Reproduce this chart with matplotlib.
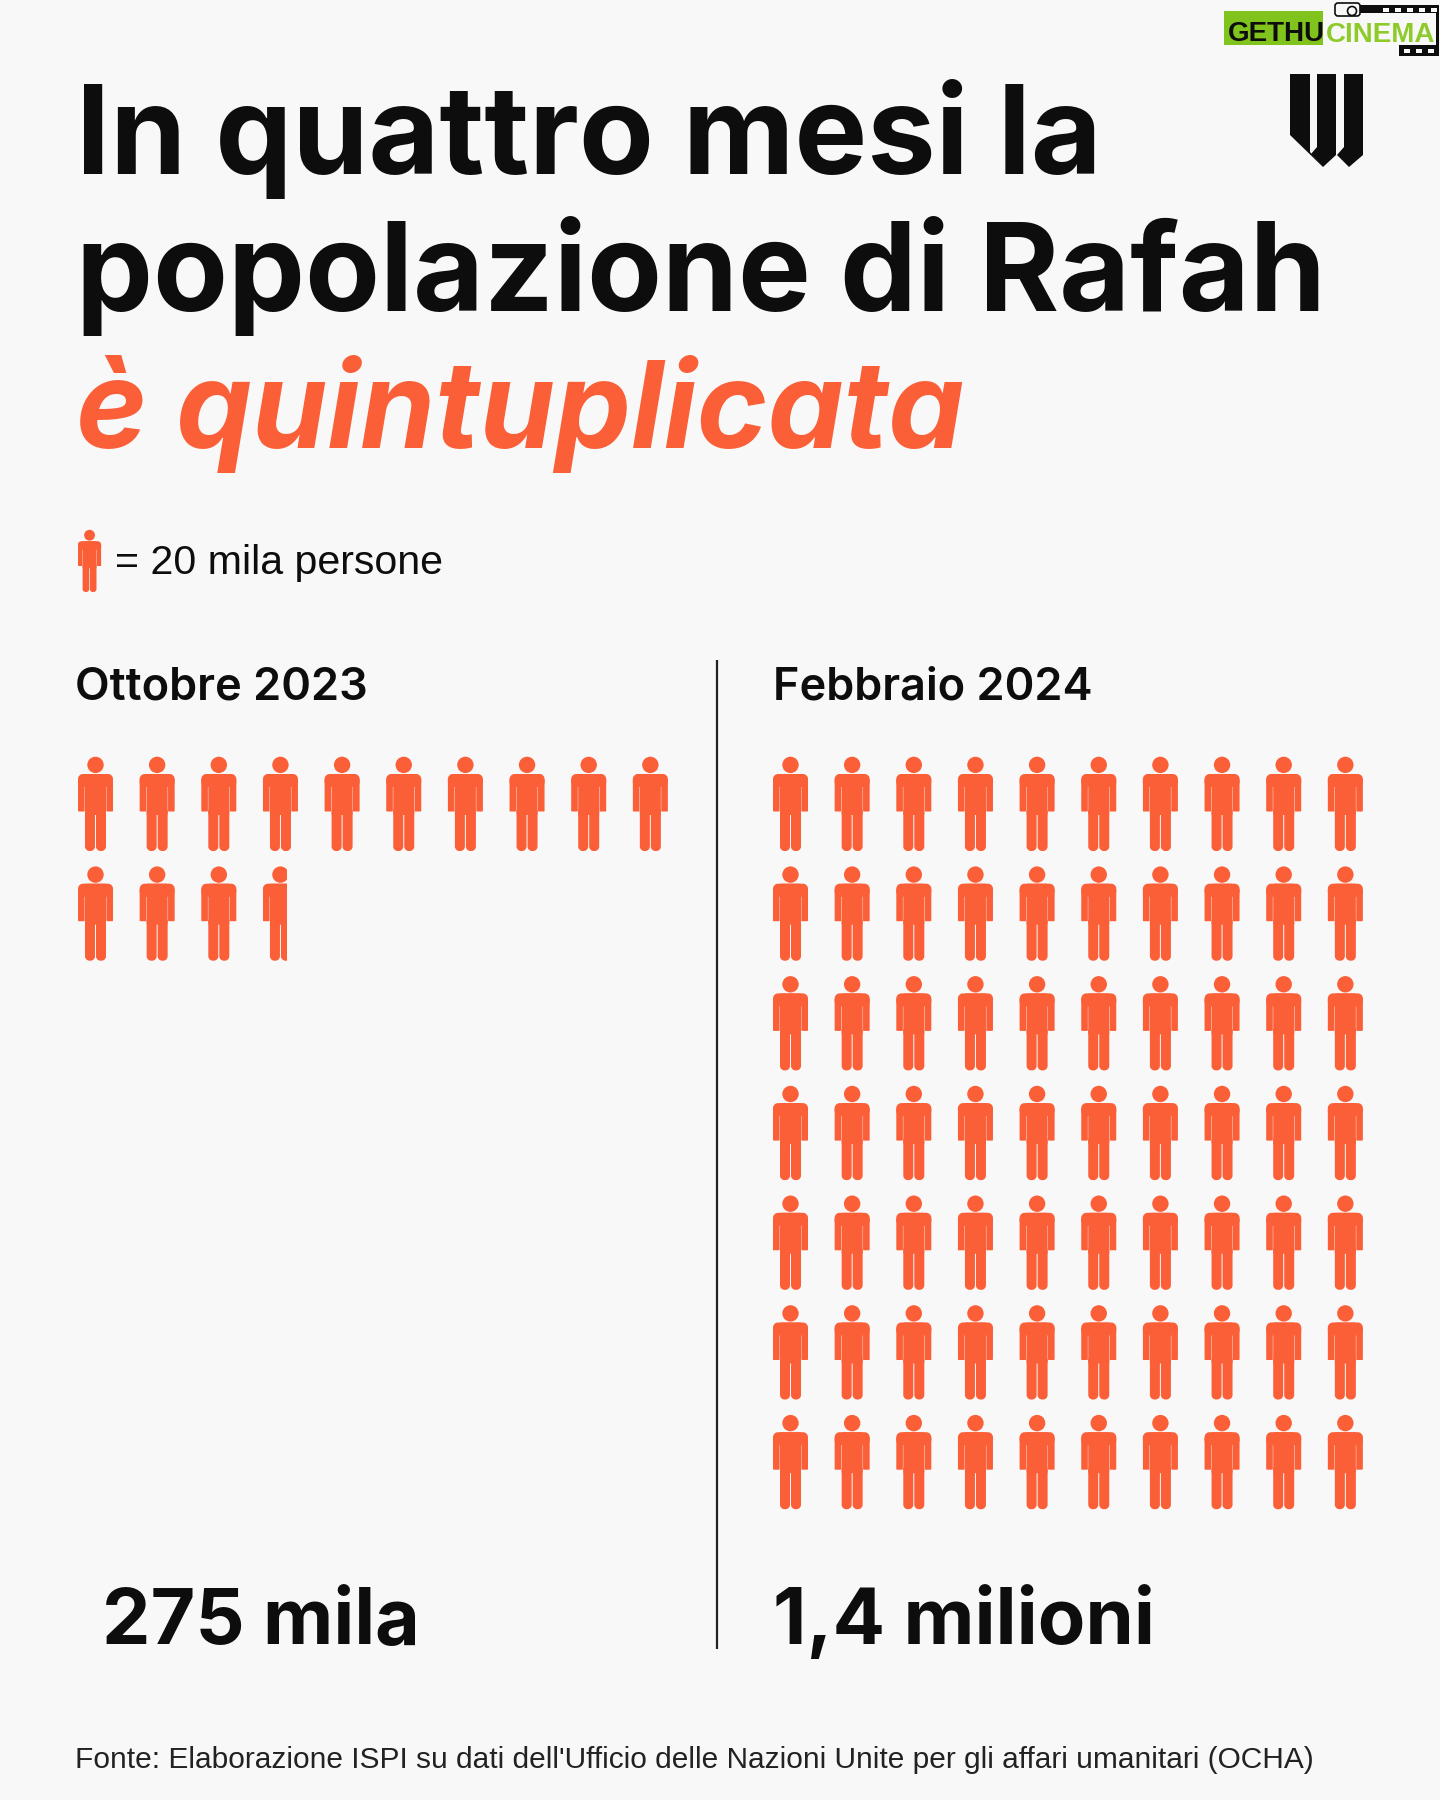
import numpy as np
import matplotlib
matplotlib.use("Agg")
import matplotlib.pyplot as plt
from matplotlib.path import Path
from matplotlib.patches import PathPatch, Rectangle, Polygon, Circle, FancyBboxPatch
from matplotlib.transforms import Affine2D

# Population of Rafah, thousands of people
periods = ["Ottobre 2023", "Febbraio 2024"]
population_k = [275, 1400]
population_labels = ["275 mila", "1,4 milioni"]
thousands_per_icon = 20
icons_per_row = 10

INK = "#0d0d0d"
ORANGE = "#fb5f38"
BG = "#f8f8f8"
FONT = ["Inter", "DejaVu Sans"]
PLAIN = ["Liberation Sans", "DejaVu Sans"]

plt.rcParams["font.family"] = FONT
fig = plt.figure(figsize=(14.4, 18), dpi=100, facecolor=BG)
ax = fig.add_axes([0, 0, 1, 1])
ax.set_xlim(0, 1440)
ax.set_ylim(1800, 0)
ax.axis("off")


def rounded_rect(x0, y0, x1, y1, r):
    k = 0.55 * r
    v = [(x0 + r, y0), (x1 - r, y0), (x1 - r + k, y0), (x1, y0 + r - k), (x1, y0 + r),
         (x1, y1 - r), (x1, y1 - r + k), (x1 - r + k, y1), (x1 - r, y1),
         (x0 + r, y1), (x0 + r - k, y1), (x0, y1 - r + k), (x0, y1 - r),
         (x0, y0 + r), (x0, y0 + r - k), (x0 + r - k, y0), (x0 + r, y0), (x0 + r, y0)]
    c = [Path.MOVETO, Path.LINETO, Path.CURVE4, Path.CURVE4, Path.CURVE4,
         Path.LINETO, Path.CURVE4, Path.CURVE4, Path.CURVE4,
         Path.LINETO, Path.CURVE4, Path.CURVE4, Path.CURVE4,
         Path.LINETO, Path.CURVE4, Path.CURVE4, Path.CURVE4, Path.CLOSEPOLY]
    return Path(v, c)


def person_parts():
    """Pictogram pieces in a 35 x 94 box, y pointing down."""
    head = Path.circle((17.5, 7.9), 8.2)
    top = rounded_rect(0, 17, 35, 30, 5)
    left_arm = rounded_rect(0, 22, 6.6, 54.5, 0.8)
    right_arm = rounded_rect(28.4, 22, 35, 54.5, 0.8)
    chest = rounded_rect(7.0, 17, 28.0, 58, 1)
    left_leg = rounded_rect(7.0, 50, 17.0, 94, 4.5)
    right_leg = rounded_rect(18.0, 50, 28.0, 94, 4.5)
    return [head, top, left_arm, right_arm, chest, left_leg, right_leg]


PARTS = person_parts()


def draw_person(x, y, scale=1.0, fraction=1.0, color=ORANGE):
    clip = Rectangle((x, y - 1), 35 * scale * fraction, 96 * scale,
                     transform=ax.transData, fc="none", ec="none")
    ax.add_patch(clip)
    tr = Affine2D().scale(scale).translate(x, y) + ax.transData
    for part in PARTS:
        patch = PathPatch(part, fc=color, ec="none", transform=tr)
        ax.add_patch(patch)
        if fraction < 1:
            patch.set_clip_path(clip)


def draw_unit_grid(value_k, x0, y0, dx=61.65, dy=109.7):
    units = value_k / thousands_per_icon
    for i in range(int(np.ceil(units))):
        row, col = divmod(i, icons_per_row)
        remaining = units - i
        # The glyph's right arm starts past its mid-width, so a partial figure
        # is trimmed a little tighter than its share of the box.
        draw_person(x0 + col * dx, y0 + row * dy,
                    fraction=remaining * 0.93 if remaining < 1 else 1.0)


# Headline
ax.text(76, 174, "In quattro mesi la", fontsize=88, fontweight="bold", color=INK, va="baseline")
ax.text(76, 311, "popolazione di Rafah", fontsize=88, fontweight="bold", color=INK, va="baseline")
ax.text(76, 448, "è quintuplicata", fontsize=87, fontweight="bold", style="italic",
        color=ORANGE, va="baseline")

# Unit key
draw_person(78, 530, scale=0.66)
ax.text(115, 574, f"= {thousands_per_icon} mila persone", fontsize=29.6, color=INK, va="baseline",
        family=PLAIN)

# Panels
ax.text(75, 699, periods[0], fontsize=32.5, fontweight="semibold", color=INK, va="baseline")
ax.text(773, 699, periods[1], fontsize=32.5, fontweight="semibold", color=INK, va="baseline")
draw_unit_grid(population_k[0], 78, 757)
draw_unit_grid(population_k[1], 773, 757)
ax.plot([716.5, 716.5], [660, 1649], color="#222222", lw=1.6, solid_capstyle="butt")

ax.text(102, 1644, population_labels[0], fontsize=55.5, fontweight="bold", color=INK, va="baseline")
ax.text(773, 1644, population_labels[1], fontsize=56, fontweight="bold", color=INK, va="baseline")

ax.text(75, 1768, "Fonte: Elaborazione ISPI su dati dell'Ufficio delle Nazioni Unite per gli affari umanitari (OCHA)",
        fontsize=21.5, color="#222222", va="baseline", family=PLAIN)

# Publisher mark
ax.add_patch(Polygon([(1290, 74), (1310, 74), (1310, 152), (1323, 167), (1290, 135)], fc=INK, ec="none"))
ax.add_patch(Polygon([(1317, 74), (1336, 74), (1336, 155), (1323, 167), (1311, 154), (1317, 147)], fc=INK, ec="none"))
ax.add_patch(Polygon([(1344, 74), (1363, 74), (1363, 155), (1349, 167), (1337, 155), (1344, 147)], fc=INK, ec="none"))

# Channel badge, top right
ax.add_patch(Rectangle((1224, 11), 99, 34, fc="#7fc31c", ec="none"))
ax.add_patch(Rectangle((1360, 5), 79, 8, fc=INK, ec="none"))
ax.add_patch(Rectangle((1399, 45), 40, 11, fc=INK, ec="none"))
ax.add_patch(Rectangle((1436, 5), 3, 50, fc=INK, ec="none"))
for sx in np.arange(1383, 1436, 12):
    ax.add_patch(Rectangle((sx, 8), 6, 4, fc=BG, ec="none"))
for sx in np.arange(1404, 1436, 12):
    ax.add_patch(Rectangle((sx, 49), 6, 4, fc=BG, ec="none"))
ax.add_patch(FancyBboxPatch((1336, 4), 23, 11, boxstyle="round,pad=1,rounding_size=3",
                            fc="none", ec=INK, lw=1.2))
ax.add_patch(Circle((1352, 11), 4.5, fc=BG, ec=INK, lw=1.2))
ax.text(1228, 41, "GETHU", fontsize=20, fontweight="bold", color=INK, va="baseline", family=PLAIN)
ax.text(1326, 42, "CINEMA", fontsize=20, fontweight="bold", color="#8ecb2a", va="baseline", family=PLAIN)

fig.savefig("out.png", dpi=100, facecolor=BG)
